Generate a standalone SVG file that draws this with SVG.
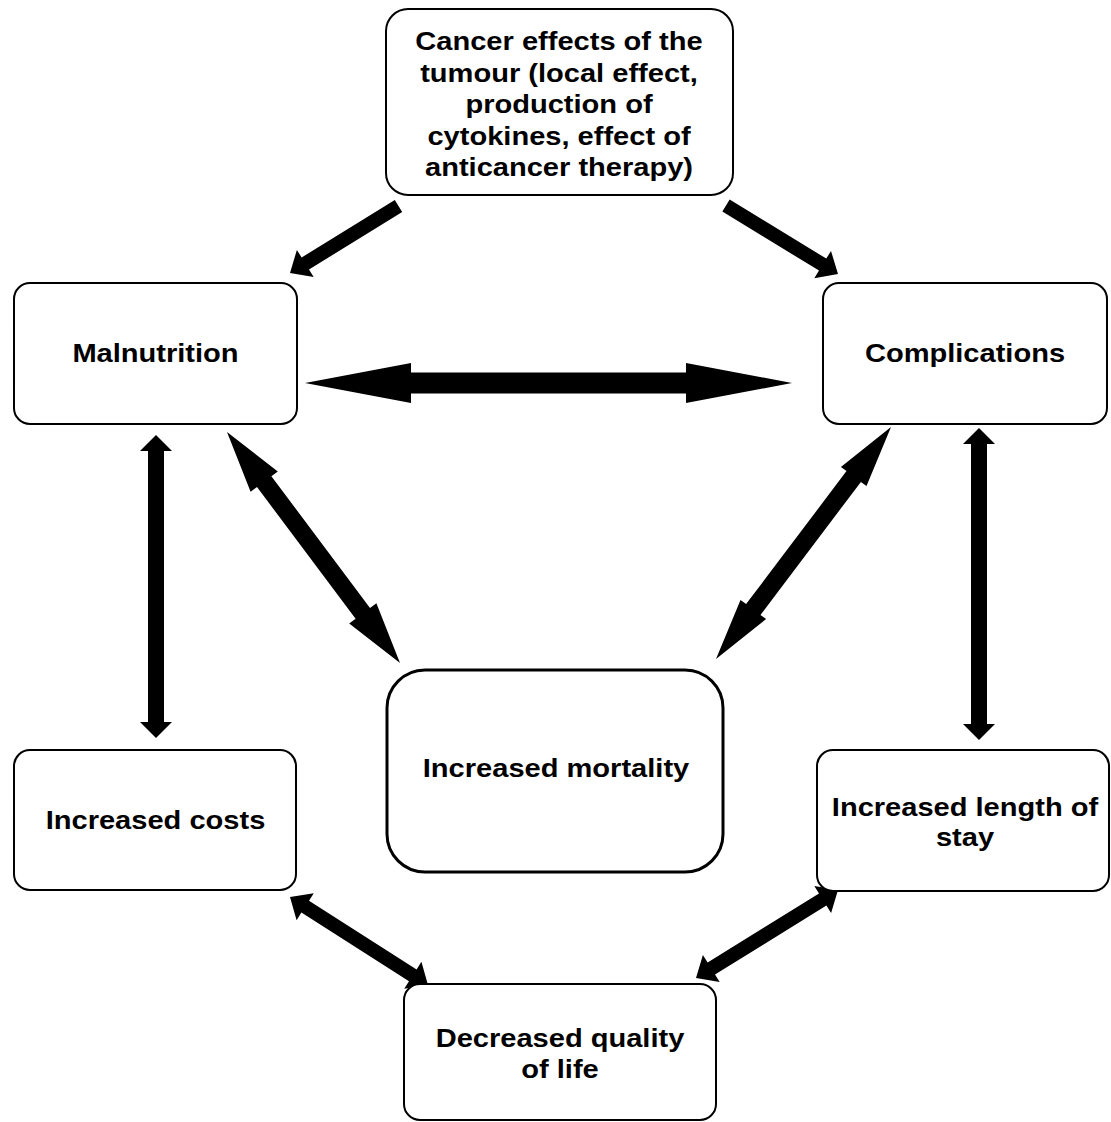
<svg xmlns="http://www.w3.org/2000/svg" width="1111" height="1122" viewBox="0 0 1111 1122">
  <style>
    .box { fill: #ffffff; stroke: #000000; stroke-width: 2; }
    .box-main { fill: #ffffff; stroke: #000000; stroke-width: 3; }
    .lbl { font-family: "Liberation Sans", Arial, sans-serif; font-weight: bold; font-size: 25.5px; fill: #000000; text-anchor: middle; }
    .arrow { fill: #000000; stroke: none; }
  </style>
  <rect width="1111" height="1122" fill="#ffffff"/>

  <!-- connectors -->
  <g id="connectors">
    <!-- tumour -> malnutrition -->
    <polygon class="arrow" points="394.8,200 301.6,257.5 296.9,249.9 290,273 313.7,277.1 309,269.5 402.2,212"/>
    <!-- tumour -> complications -->
    <polygon class="arrow" points="722.35,211.5 819,270.6 814.3,278.3 838,274 831,250.9 826.3,258.6 729.65,199.5"/>
    <!-- malnutrition <-> complications -->
    <polygon class="arrow" points="305,383 411,363 411,372.5 686,372.5 686,363 792,383 686,403 686,393.5 411,393.5 411,403"/>
    <!-- malnutrition <-> increased costs -->
    <polygon class="arrow" points="156,435 172,451 164,451 164,722 172,722 156,738 140,722 148,722 148,451 140,451"/>
    <!-- complications <-> length of stay -->
    <polygon class="arrow" points="979,428 995,444 987,444 987,724 995,724 979,740 963,724 971,724 971,444 963,444"/>
    <!-- malnutrition <-> mortality -->
    <polygon class="arrow" points="227,432 250.6,491.8 257,487 355.6,618.8 349.2,623.6 400,663 376.4,603.2 370,608 271.4,476.2 277.8,471.4"/>
    <!-- complications <-> mortality -->
    <polygon class="arrow" points="891,427 840.9,466.9 846.5,471.1 746.1,604.1 740.5,599.9 716,659 766.1,619.1 760.5,614.9 860.9,481.9 866.5,486.1"/>
    <!-- increased costs <-> quality of life -->
    <polygon class="arrow" points="290,897 296.6,920.2 301.4,912.6 409,981.2 404.2,988.8 428,985 421.4,961.8 416.6,969.4 309,900.8 313.8,893.2"/>
    <!-- length of stay <-> quality of life -->
    <polygon class="arrow" points="838,890 814.3,885.9 819,893.5 707.6,962.5 702.9,954.9 696,978 719.7,982.1 715,974.5 826.4,905.5 831.1,913.1"/>
  </g>

  <!-- nodes -->
  <g id="tumour">
    <rect class="box" x="386" y="9" width="347" height="186" rx="22"/>
    <g transform="translate(559 0) scale(1.14 1)">
      <text class="lbl" x="0" y="50.5">Cancer effects of the</text>
      <text class="lbl" x="0" y="82">tumour (local effect,</text>
      <text class="lbl" x="0" y="113.5">production of</text>
      <text class="lbl" x="0" y="145">cytokines, effect of</text>
      <text class="lbl" x="0" y="176.5">anticancer therapy)</text>
    </g>
  </g>

  <g id="malnutrition">
    <rect class="box" x="14" y="283" width="283" height="141" rx="16"/>
    <g transform="translate(155.5 0) scale(1.14 1)">
      <text class="lbl" x="0" y="362">Malnutrition</text>
    </g>
  </g>

  <g id="complications">
    <rect class="box" x="823" y="283" width="284" height="141" rx="16"/>
    <g transform="translate(965 0) scale(1.14 1)">
      <text class="lbl" x="0" y="362">Complications</text>
    </g>
  </g>

  <g id="mortality">
    <rect class="box-main" x="387" y="670" width="336" height="202" rx="38"/>
    <g transform="translate(556 0) scale(1.14 1)">
      <text class="lbl" x="0" y="777">Increased mortality</text>
    </g>
  </g>

  <g id="costs">
    <rect class="box" x="14" y="750" width="282" height="140" rx="16"/>
    <g transform="translate(155.5 0) scale(1.14 1)">
      <text class="lbl" x="0" y="829">Increased costs</text>
    </g>
  </g>

  <g id="length-of-stay">
    <rect class="box" x="817" y="750" width="292" height="141" rx="16"/>
    <g transform="translate(965 0) scale(1.14 1)">
      <text class="lbl" x="0" y="816">Increased length of</text>
      <text class="lbl" x="0" y="846">stay</text>
    </g>
  </g>

  <g id="quality-of-life">
    <rect class="box" x="404" y="984" width="312" height="136" rx="16"/>
    <g transform="translate(560 0) scale(1.14 1)">
      <text class="lbl" x="0" y="1047">Decreased quality</text>
      <text class="lbl" x="0" y="1078">of life</text>
    </g>
  </g>
</svg>
